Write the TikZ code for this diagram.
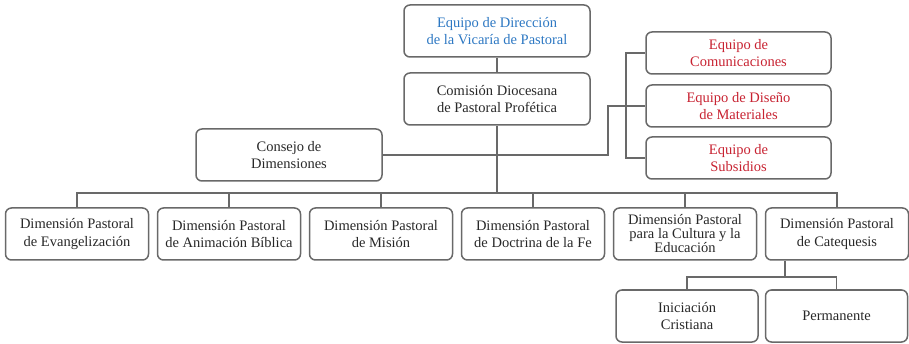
\documentclass[tikz,border=0pt]{standalone}
\usepackage{fontspec}
\setmainfont{Liberation Serif}
\usetikzlibrary{positioning}
\definecolor{linegray}{RGB}{105,105,105}
\definecolor{txtgray}{RGB}{40,40,40}
\definecolor{blu}{RGB}{45,120,195}
\definecolor{rd}{RGB}{200,35,50}

\begin{document}
\begin{tikzpicture}[x=1pt, y=-1pt, line width=1.6pt, draw=linegray,
    box/.style={draw=linegray, rounded corners=6pt, line width=1.5pt, fill=white,
        minimum width=186pt, minimum height=52pt, align=center, inner sep=2pt,
        text=txtgray, font=\fontsize{14.5}{17.5}\selectfont},
    sm/.style={box, minimum width=185pt, minimum height=42pt, text=rd},
    dimbox/.style={box, minimum width=143pt},
    tight/.style={font=\fontsize{14.5}{14}\selectfont}
  ]
    \useasboundingbox (0,0) rectangle (909,344);

    \node[box, text=blu] (dir) at (497,31) {Equipo de Dirección\\de la Vicaría de Pastoral};
    \node[box] (com) at (497,99) {Comisión Diocesana\\de Pastoral Profética};
    \node[box] (cons) at (289,155) {Consejo de\\Dimensiones};

    \node[sm] (comu) at (738.5,53) {Equipo de\\Comunicaciones};
    \node[sm] (mat) at (738.5,106) {Equipo de Diseño\\de Materiales};
    \node[sm] (sub) at (738.5,158) {Equipo de\\Subsidios};

    % dimensiones
    \node[dimbox] (d1) at (77,234) {Dimensión Pastoral\\de Evangelización};
    \node[dimbox, right=7.5pt of d1] (d2) {Dimensión Pastoral\\de Animación Bíblica};
    \node[dimbox, right=7.5pt of d2] (d3) {Dimensión Pastoral\\de Misión};
    \node[dimbox, right=7.5pt of d3] (d4) {Dimensión Pastoral\\de Doctrina de la Fe};
    \node[dimbox, tight, right=7.5pt of d4] (d5) {Dimensión Pastoral\\para la Cultura y la\\Educación};
    \node[dimbox, right=7.5pt of d5] (d6) {Dimensión Pastoral\\de Catequesis};

    \node[box, minimum width=142pt] (ini) at (687,316) {Iniciación\\Cristiana};
    \node[box, minimum width=142pt] (perm) at (836.5,316) {Permanente};

    % connectors
    \coordinate (bus) at (497,193);
    \coordinate (turn) at (608,106);
    \coordinate (cq) at (785,277);
    \draw (dir) -- (com);
    \draw (com.south) -- (bus);
    \draw (d1.north) |- (bus) -| (d6.north);
    \foreach \i in {2,...,5}
      \draw (d\i.north) -- (d\i.north |- bus);
    \draw (cons.east) -| (turn) -- (mat.west);
    \draw (comu.west) -- ++(-19,0) |- (sub.west);
    \draw (d6.south -| cq) -- (cq);
    \draw (ini.north) |- (cq) -| (perm.north);
  \end{tikzpicture}
\end{document}
